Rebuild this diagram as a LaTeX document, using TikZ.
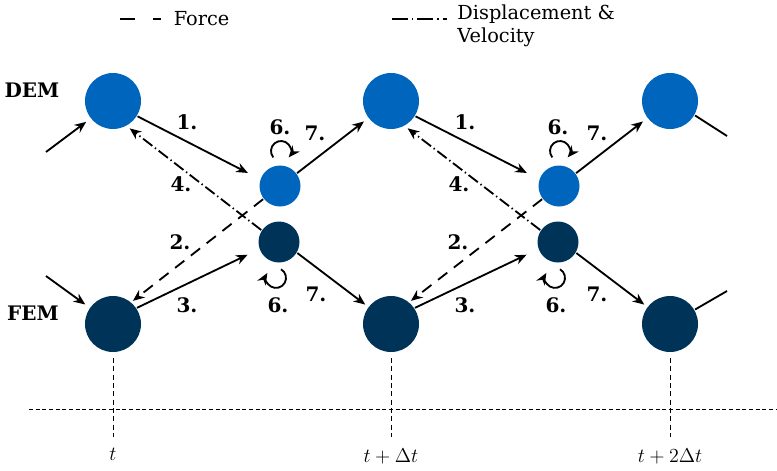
\documentclass[tikz,border=0pt]{standalone}
\usepackage{amsmath}
\usepackage{fontspec}
\setmainfont{DejaVu Serif}
\usepackage{tikz}
\usetikzlibrary{arrows.meta,positioning}
\definecolor{DemBlue}{RGB}{0,102,189}
\definecolor{FemNavy}{RGB}{0,51,88}

\begin{document}
\begin{tikzpicture}[x=0.6pt, y=0.6pt, >={Stealth[length=7pt,width=5.8pt]}, line width=1.1pt,
    font=\fontsize{11.6}{13.8}\selectfont,
    bigdem/.style={circle, fill=DemBlue, minimum size=33.6pt, inner sep=0pt},
    bigfem/.style={circle, fill=FemNavy, minimum size=33.6pt, inner sep=0pt},
    smalldem/.style={circle, fill=DemBlue, minimum size=24.6pt, inner sep=0pt},
    smallfem/.style={circle, fill=FemNavy, minimum size=24.6pt, inner sep=0pt},
    stepnum/.style={font=\fontsize{12}{13.8}\selectfont\bfseries},
    forceline/.style={dash pattern=on 7pt off 5pt},
    displine/.style={dash pattern=on 7pt off 2pt on 0.8pt off 2pt},
    timeline/.style={line width=0.5pt, dash pattern=on 3pt off 2pt}]
    \useasboundingbox (0,0) rectangle (777,-470);

    % legend
    \coordinate (fs) at (120,-19);
    \coordinate (fe) at (161,-19);
    \draw [dash pattern=on 9pt off 10.8pt] (fs) -- (fe);
    \node [right=3.8pt of fe] (force) {Force};
    \coordinate (ds) at (392,-19);
    \coordinate (de) at (447,-19);
    \draw [dash pattern=on 9.6pt off 2.4pt on 0.8pt off 2.4pt] (ds) -- (de);
    \node [anchor=west, align=left] (disp) at (451,-25.5) {Displacement \&\\Velocity};

    % solvers
    \node [stepnum] (demlbl) at (32,-90) {DEM};
    \node [stepnum] (femlbl) at (33,-313) {FEM};

    \node [bigdem] (demA) at (113,-101) {};
    \node [bigdem] (demB) at (391,-101) {};
    \node [bigdem] (demC) at (670,-101) {};
    \node [bigfem] (femA) at (113,-324) {};
    \node [bigfem] (femB) at (391,-324) {};
    \node [bigfem] (femC) at (670,-324) {};
    \node [smalldem] (sd1) at (280,-186) {};
    \node [smallfem] (sf1) at (279,-242) {};
    \node [smalldem] (sd2) at (559,-186) {};
    \node [smallfem] (sf2) at (558,-242) {};

    \coordinate (inD) at (46,-152);
    \coordinate (inF) at (46,-276);
    \coordinate (outD) at (727,-136);
    \coordinate (outF) at (727,-291);

    \draw [->, shorten >=3pt] (inD) -- (demA.218);
    \draw [->, shorten >=3pt] (inF) -- (femA.145);

    % first step
    \draw [->, shorten >=8pt] (demA.-32) -- (sd1.161);
    \draw [->, displine, shorten >=2pt] (sf1.146) -- (demA.-61);
    \draw [->, forceline, shorten >=1pt] (sd1.218) -- (femA.50);
    \draw [->, shorten >=7.5pt] (femA.34) -- (sf1.200);
    \draw [->, shorten >=3pt] (sd1.37) -- (demB.217);
    \draw [->, shorten >=2pt] (sf1.-31) -- (femB.143);
    \draw [->] ([xshift=-4pt,yshift=4.3pt]sd1.north) arc[start angle=220, end angle=-40, radius=6pt];
    \draw [->] ([xshift=1.2pt,yshift=-3.5pt]sf1.south) arc[start angle=60, end angle=-210, radius=6pt];

    % second step
    \draw [->, shorten >=8pt] (demB.-32) -- (sd2.161);
    \draw [->, displine, shorten >=2pt] (sf2.146) -- (demB.-61);
    \draw [->, forceline, shorten >=1pt] (sd2.218) -- (femB.50);
    \draw [->, shorten >=7.5pt] (femB.34) -- (sf2.200);
    \draw [->, shorten >=3pt] (sd2.37) -- (demC.217);
    \draw [->, shorten >=2pt] (sf2.-31) -- (femC.143);
    \draw [->] ([xshift=-4pt,yshift=4.3pt]sd2.north) arc[start angle=220, end angle=-40, radius=6pt];
    \draw [->] ([xshift=1.2pt,yshift=-3.5pt]sf2.south) arc[start angle=60, end angle=-210, radius=6pt];

    \draw (demC.-30) -- (outD);
    \draw (femC.30) -- (outF);

    % step numbers
    \node [stepnum] (n1a) at (187,-122) {1.};
    \node [stepnum] (n4a) at (181,-184) {4.};
    \node [stepnum] (n2a) at (180,-242) {2.};
    \node [stepnum] (n3a) at (187,-305) {3.};
    \node [stepnum] (n6a) at (280,-127) {6.};
    \node [stepnum] (n6b) at (278,-305) {6.};
    \node [stepnum] (n7a) at (315,-133) {7.};
    \node [stepnum] (n7b) at (316,-294) {7.};
    \node [stepnum] (n1b) at (465,-122) {1.};
    \node [stepnum] (n4b) at (459,-184) {4.};
    \node [stepnum] (n2b) at (458,-242) {2.};
    \node [stepnum] (n3b) at (465,-305) {3.};
    \node [stepnum] (n6c) at (558,-127) {6.};
    \node [stepnum] (n6d) at (556,-305) {6.};
    \node [stepnum] (n7c) at (597,-133) {7.};
    \node [stepnum] (n7d) at (597,-294) {7.};

    % time axis
    \coordinate (tA) at (113,-437);
    \coordinate (tB) at (391,-437);
    \coordinate (tC) at (670,-437);
    \coordinate (axL) at (29,-409);
    \coordinate (axR) at (777,-409);
    \draw [timeline] (femA) ++(0,-34) -- (tA);
    \draw [timeline] (femB) ++(0,-34) -- (tB);
    \draw [timeline] (femC) ++(0,-34) -- (tC);
    \draw [line width=0.5pt, dash pattern=on 2.4pt off 1.6pt] (axL) -- (axR);
    \node [below=3pt of tA, font=\fontsize{13}{15}\selectfont] (lt0) {$t$};
    \node [below=3pt of tB, font=\fontsize{13}{15}\selectfont] (lt1) {$t+\Delta t$};
    \node [below=3pt of tC, font=\fontsize{13}{15}\selectfont] (lt2) {$t+2\Delta t$};
\end{tikzpicture}
\end{document}
